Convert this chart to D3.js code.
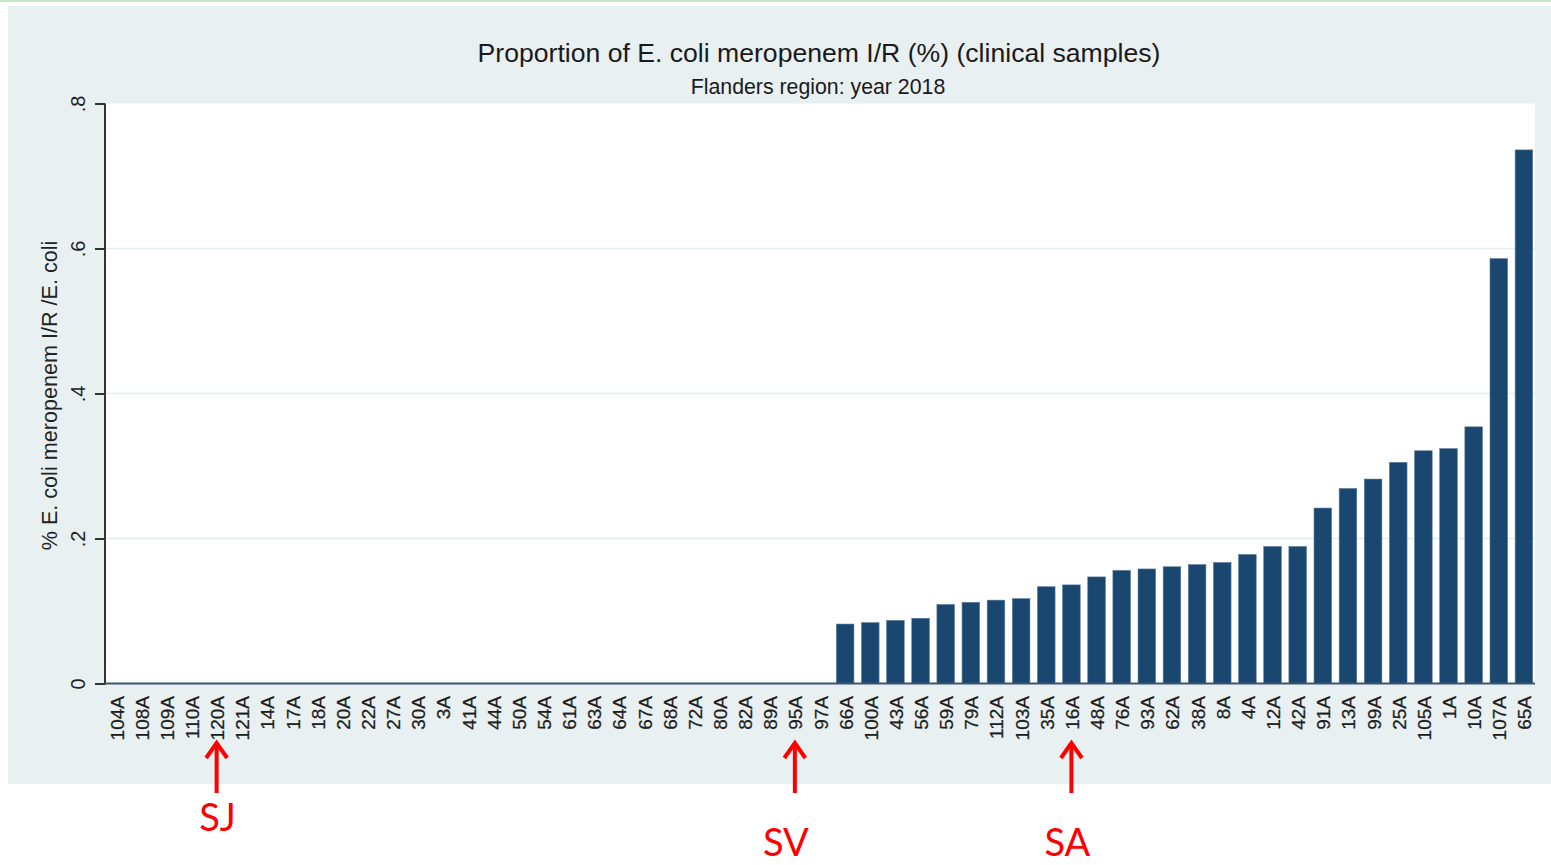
<!DOCTYPE html>
<html>
<head>
<meta charset="utf-8">
<script src="https://cdn.jsdelivr.net/npm/d3@7"></script>
<style>
  html, body { margin: 0; padding: 0; background: #ffffff; }
  svg { display: block; }
</style>
</head>
<body>
<svg id="chart" width="1551" height="865"></svg>
<script>
// ---- Data ----
const categories = [
  "104A","108A","109A","110A","120A","121A","14A","17A","18A","20A","22A","27A","30A","3A",
  "41A","44A","50A","54A","61A","63A","64A","67A","68A","72A","80A","82A","89A","95A","97A",
  "66A","100A","43A","56A","59A","79A","112A","103A","35A","16A","48A","76A","93A","62A",
  "38A","8A","4A","12A","42A","91A","13A","99A","25A","105A","1A","10A","107A","65A"
];
const values = [
  0,0,0,0,0,0,0,0,0,0,0,0,0,0,
  0,0,0,0,0,0,0,0,0,0,0,0,0,0,0,
  0.082,0.084,0.087,0.090,0.109,0.112,0.115,0.117,0.1335,0.136,0.147,0.156,0.158,0.161,
  0.164,0.167,0.178,0.189,0.189,0.242,0.269,0.282,0.305,0.321,0.324,0.354,0.586,0.736
];
const yTicks = [0, 0.2, 0.4, 0.6, 0.8];
const yTickLabels = ["0", ".2", ".4", ".6", ".8"];
const annotationLabels = ["SJ", "SV", "SA"];
const annotationCategories = ["120A", "95A", "16A"];

const titleText = "Proportion of E. coli meropenem I/R (%) (clinical samples)";
const subtitleText = "Flanders region: year 2018";
const yLabelText = "% E. coli meropenem I/R /E. coli";

// ---- Layout ----
const svg = d3.select("#chart");
const plot = { left: 105, right: 1535, top: 103.5, bottom: 683.5 };
const font = "'Liberation Sans', Arial, sans-serif";

// top green line
svg.append("rect").attr("x", 0).attr("y", 0).attr("width", 1551).attr("height", 2)
  .attr("fill", "#c3e8c8");

// outer graph region
svg.append("rect").attr("x", 8).attr("y", 6).attr("width", 1543).attr("height", 778)
  .attr("fill", "#e9f0f2");

// plot region
svg.append("rect").attr("x", plot.left).attr("y", plot.top)
  .attr("width", plot.right - plot.left).attr("height", plot.bottom - plot.top)
  .attr("fill", "#ffffff");

const x = d3.scaleBand().domain(categories).range([plot.left, plot.right])
  .paddingInner(0.3).paddingOuter(0.09);
const y = d3.scaleLinear().domain([0, 0.8]).range([plot.bottom, plot.top]);

// gridlines
svg.append("g").selectAll("line").data(yTicks.filter(t => t > 0 && t < 0.8)).join("line")
  .attr("x1", plot.left).attr("x2", plot.right)
  .attr("y1", d => y(d)).attr("y2", d => y(d))
  .attr("stroke", "#e3eef1").attr("stroke-width", 1.5);

// bars
svg.append("g").selectAll("rect").data(categories.map((c, i) => ({ c, v: values[i] })))
  .join("rect")
  .attr("x", d => x(d.c))
  .attr("width", x.bandwidth())
  .attr("y", d => y(d.v))
  .attr("height", d => y(0) - y(d.v))
  .attr("fill", "#1a476f")
  .attr("stroke", "#5b7d9c")
  .attr("stroke-width", 0.6);

// y axis
const yAxis = d3.axisLeft(y).tickValues(yTicks).tickSize(10).tickFormat((d, i) => yTickLabels[i]);
const yg = svg.append("g").attr("transform", `translate(${plot.left},0)`).call(yAxis);
yg.select(".domain").attr("stroke", "#333333").attr("stroke-width", 2).attr("d", `M0,${plot.bottom + 1}V${plot.top}`);
yg.selectAll(".tick line").attr("stroke", "#333333").attr("stroke-width", 2);
yg.selectAll(".tick text")
  .attr("font-family", font).attr("font-size", 20).attr("fill", "#222222")
  .attr("x", null).attr("dy", null)
  .attr("text-anchor", "middle")
  .attr("transform", "translate(-20.5,0) rotate(-90)");

// x axis
const xAxis = d3.axisBottom(x).tickSize(0).tickPadding(0);
const xg = svg.append("g").attr("transform", `translate(0,${plot.bottom})`).call(xAxis);
xg.select(".domain").attr("stroke", "#3a5570").attr("stroke-width", 2)
  .attr("d", `M${plot.left},0H${plot.right}`);
xg.selectAll(".tick text")
  .attr("font-family", font).attr("font-size", 19).attr("fill", "#1e1e1e")
  .attr("stroke", "#1e1e1e").attr("stroke-width", 0.25)
  .attr("y", null).attr("dy", null)
  .attr("text-anchor", "end")
  .attr("transform", "translate(7.5,12.5) rotate(-90)");

// titles
svg.append("text").attr("x", (plot.left + plot.right) / 2 - 1).attr("y", 62)
  .attr("text-anchor", "middle").attr("font-family", font).attr("font-size", 26.6)
  .attr("fill", "#1a1a1a").text(titleText);
svg.append("text").attr("x", (plot.left + plot.right) / 2 - 2).attr("y", 94)
  .attr("text-anchor", "middle").attr("font-family", font).attr("font-size", 21.3)
  .attr("fill", "#1a1a1a").text(subtitleText);

// y label
svg.append("text").attr("transform", `translate(57,${(plot.top + plot.bottom) / 2 + 2}) rotate(-90)`)
  .attr("text-anchor", "middle").attr("font-family", font).attr("font-size", 21.6)
  .attr("fill", "#222222").text(yLabelText);

// annotations (red arrows + labels)
const ann = svg.append("g");
annotationCategories.forEach((c, i) => {
  const cx = x(c) + x.bandwidth() / 2;
  ann.append("line").attr("x1", cx).attr("x2", cx).attr("y1", 744).attr("y2", 793)
    .attr("stroke", "#ff0000").attr("stroke-width", 4);
  ann.append("path").attr("d", `M${cx - 10.5},758 L${cx},743 L${cx + 10.5},758`)
    .attr("fill", "none").attr("stroke", "#ff0000").attr("stroke-width", 4)
    .attr("stroke-linejoin", "miter");
  const ty = i === 0 ? 831 : 856;
  const dx = i === 1 ? -9 : (i === 2 ? -4 : 1);
  ann.append("text").attr("x", cx + dx).attr("y", ty).attr("text-anchor", "middle")
    .attr("font-family", "Lato, 'Open Sans', sans-serif").attr("font-size", 38)
    .attr("fill", "#ff0000").text(annotationLabels[i]);
});
</script>
</body>
</html>
